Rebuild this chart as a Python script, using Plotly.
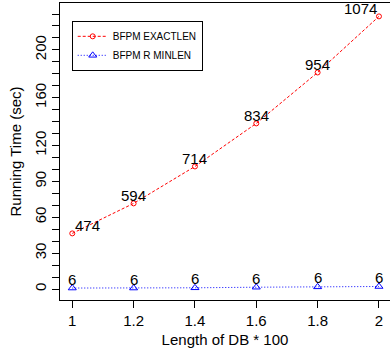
import plotly.graph_objects as go

db_length = [1.0, 1.2, 1.4, 1.6, 1.8, 2.0]
exactlen_time = [46.5, 71.6, 102.5, 138.5, 181.1, 228.0]
minlen_time = [0.8, 0.8, 1.0, 1.5, 1.8, 2.1]
exactlen_labels = ["474", "594", "714", "834", "954", "1074"]
minlen_labels = ["6", "6", "6", "6", "6", "6"]
exactlen_label_shift = [15, 0, 0, 0, 0, -18]

y_tick_vals = list(range(0, 240, 10))
y_tick_labeled = {0: "0", 30: "30", 60: "60", 90: "90", 120: "120", 160: "160", 200: "200"}
y_tick_text = [y_tick_labeled.get(v, "") for v in y_tick_vals]
x_tick_vals = [1.0, 1.2, 1.4, 1.6, 1.8, 2.0]
x_tick_text = ["1", "1.2", "1.4", "1.6", "1.8", "2"]

FONT = "Liberation Sans, Arial, Helvetica, sans-serif"

fig = go.Figure()
fig.add_trace(go.Scatter(
    x=db_length, y=exactlen_time, mode="lines+markers", name="BFPM EXACTLEN",
    line=dict(color="red", width=1, dash="3px,2px"),
    marker=dict(symbol="circle-open", size=5, color="red", line=dict(width=1, color="red")),
))
fig.add_trace(go.Scatter(
    x=db_length, y=minlen_time, mode="lines+markers", name="BFPM R MINLEN",
    line=dict(color="blue", width=1, dash="1px,2px"),
    marker=dict(symbol="triangle-up-open", size=7, color="blue", line=dict(width=1, color="blue")),
))

annotations = []
for x, y, t, s in zip(db_length, exactlen_time, exactlen_labels, exactlen_label_shift):
    annotations.append(dict(x=x, y=y, text=t, showarrow=False, xshift=s, yshift=8,
                            yanchor="middle", xanchor="center",
                            font=dict(family=FONT, size=15, color="black")))
for x, y, t in zip(db_length, minlen_time, minlen_labels):
    annotations.append(dict(x=x, y=y, text=t, showarrow=False, yshift=9,
                            yanchor="middle", xanchor="center",
                            font=dict(family=FONT, size=15, color="black")))

fig.update_layout(
    width=390, height=352,
    margin=dict(l=60, r=0, t=3, b=52),
    paper_bgcolor="white", plot_bgcolor="white",
    font=dict(family=FONT, size=15, color="black"),
    showlegend=True,
    legend=dict(x=0.0355, y=0.94, xanchor="left", yanchor="top",
                bordercolor="black", borderwidth=1, bgcolor="white",
                font=dict(family=FONT, size=10, color="black"),
                itemwidth=30, tracegroupgap=0),
    annotations=annotations,
    xaxis=dict(range=[0.96, 2.036], tickvals=x_tick_vals, ticktext=x_tick_text,
               showgrid=False, zeroline=False, showline=True, linecolor="black",
               linewidth=1, mirror=True, ticks="outside", ticklen=7, tickcolor="black",
               tickfont=dict(size=15),
               title=dict(text="Length of DB * 100", font=dict(size=15), standoff=6)),
    yaxis=dict(range=[-9.2, 239.2], tickvals=y_tick_vals, ticktext=y_tick_text,
               showgrid=False, zeroline=False, showline=True, linecolor="black",
               linewidth=1, mirror=False, ticks="outside", ticklen=7, tickcolor="black",
               tickangle=-90, tickfont=dict(size=15),
               title=dict(text="Running Time (sec)", font=dict(size=15), standoff=6)),
)

fig.write_html("out.html", config={"displayModeBar": False},
               post_script="document.body.style.margin='0';document.body.style.overflow='hidden';")
